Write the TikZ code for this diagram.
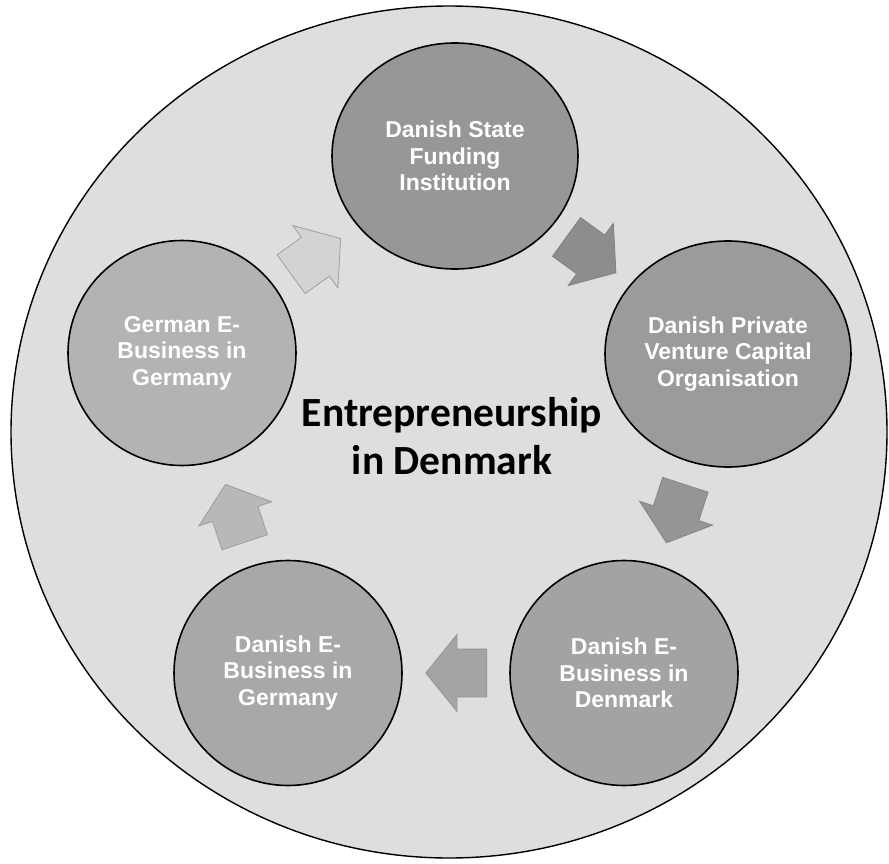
\documentclass[tikz,border=0pt]{standalone}
\usepackage{fontspec}
\setmainfont{Liberation Sans}
\newfontfamily\titlefont{Carlito}
\usepackage{xcolor}
\usepackage{tikz}
\usetikzlibrary{shapes.geometric,shapes.arrows}
\definecolor{back}{HTML}{DEDEDE}
\definecolor{discA}{HTML}{979797}
\definecolor{discB}{HTML}{9B9B9B}
\definecolor{discC}{HTML}{A3A3A3}
\definecolor{discD}{HTML}{A8A8A8}
\definecolor{discE}{HTML}{B3B3B3}
\definecolor{arrA}{HTML}{8D8D8D}
\definecolor{arrB}{HTML}{959595}
\definecolor{arrC}{HTML}{A4A4A4}
\definecolor{arrD}{HTML}{B8B8B8}
\definecolor{arrE}{HTML}{D3D3D3}
\tikzset{
  disc/.style={ellipse, draw=black, line width=1.6pt, inner sep=0pt, text=white,
    align=center, font=\bfseries\fontsize{23}{26.5}\selectfont,
    minimum width=228pt, minimum height=225pt},
  wide/.style={minimum width=246pt, minimum height=226pt},
  arr/.style={single arrow, sloped, allow upside down, inner xsep=0pt, inner ysep=23.5pt,
    minimum height=61pt, minimum width=76pt, single arrow head extend=14.5pt,
    single arrow tip angle=102, line width=0.8pt, xshift=-10pt},
  ttl/.style={font=\titlefont\bfseries\fontsize{41.5}{48}\selectfont, align=center}
}

\begin{document}
\begin{tikzpicture}[x=1pt, y=-1pt]
\useasboundingbox (0,0) rectangle (889,864);
% outer disc
\draw[fill=back, line width=1.4pt] (449,432) ellipse [x radius=438, y radius=426];

% stages
\node[disc, wide, fill=discA] (state) at (455,156) {Danish State\\Funding\\Institution};
\node[disc, wide, fill=discB] (venture) at (728,354) {Danish Private\\Venture Capital\\Organisation};
\node[disc, fill=discC] (dkbiz) at (624,673) {Danish E-\\Business in\\Denmark};
\node[disc, fill=discD] (dkger) at (288,673) {Danish E-\\Business in\\Germany};
\node[disc, fill=discE] (gerbiz) at (182,353) {German E-\\Business in\\Germany};

% cycle arrows
\path (state) -- node[arr, fill=arrA, draw=arrA!90!black] {} (venture);
\path (venture) -- node[arr, fill=arrB, draw=arrB!90!black] {} (dkbiz);
\path (dkbiz) -- node[arr, fill=arrC, draw=arrC!90!black] {} (dkger);
\path (dkger) -- node[arr, fill=arrD, draw=arrD!85!black] {} (gerbiz);
\path (gerbiz) -- node[arr, fill=arrE, draw=arrE!75!black] {} (state);

% title
\node[ttl] (title) at (452,436) {Entrepreneurship\\in Denmark};
\end{tikzpicture}
\end{document}
